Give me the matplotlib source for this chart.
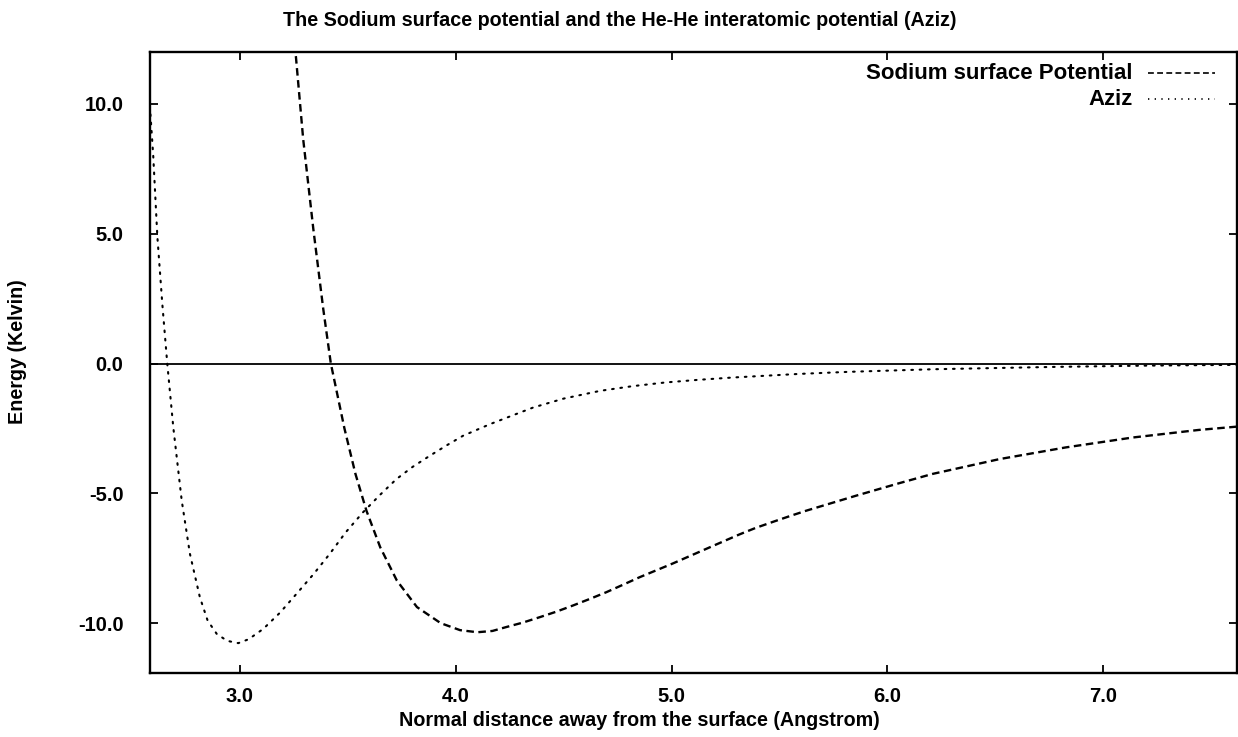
import numpy as np
import matplotlib
matplotlib.use("Agg")
import matplotlib.pyplot as plt

plt.rcParams['font.family'] = ['Liberation Sans', 'DejaVu Sans']

# He-He interatomic potential (Aziz)
aziz_x = [2.585, 2.598, 2.617, 2.640, 2.663, 2.691, 2.730, 2.768, 2.814, 2.850,
          2.892, 2.940, 2.992, 3.040, 3.108, 3.185, 3.262, 3.340, 3.416, 3.490,
          3.570, 3.650, 3.725, 3.800, 3.880, 3.960, 4.034, 4.160, 4.300, 4.360,
          4.500, 4.670, 4.820, 4.970, 5.120, 5.280, 5.590, 5.820, 6.210, 6.770,
          7.200, 7.620]
aziz_y = [9.6, 8.0, 4.9, 2.3, 0.0, -2.46, -5.28, -7.33, -9.0, -9.9,
          -10.41, -10.68, -10.77, -10.62, -10.22, -9.6, -8.87, -8.12, -7.33, -6.5,
          -5.73, -5.05, -4.45, -3.98, -3.55, -3.14, -2.78, -2.33, -1.88, -1.69,
          -1.35, -1.05, -0.87, -0.73, -0.63, -0.54, -0.40, -0.32, -0.22, -0.13,
          -0.08, -0.05]

# Sodium surface potential
na_x = [3.250, 3.259, 3.293, 3.340, 3.386, 3.421, 3.484, 3.535, 3.586, 3.650,
        3.727, 3.820, 3.930, 4.020, 4.100, 4.170, 4.234, 4.310, 4.389, 4.465,
        4.543, 4.620, 4.697, 4.775, 4.852, 5.006, 5.160, 5.240, 5.315, 5.390,
        5.469, 5.550, 5.623, 5.855, 6.050, 6.210, 6.520, 6.827, 7.136, 7.440,
        7.620]
na_y = [12.3, 11.83, 8.63, 5.17, 2.09, 0.0, -2.5, -4.25, -5.67, -7.08,
        -8.36, -9.38, -10.0, -10.27, -10.35, -10.3, -10.15, -9.98, -9.77, -9.56,
        -9.32, -9.07, -8.81, -8.52, -8.23, -7.7, -7.14, -6.85, -6.58, -6.33,
        -6.1, -5.87, -5.67, -5.09, -4.62, -4.25, -3.68, -3.23, -2.85, -2.56,
        -2.43]

xticks = [3.0, 4.0, 5.0, 6.0, 7.0]
xtick_labels = ["3.0", "4.0", "5.0", "6.0", "7.0"]
yticks = [-10.0, -5.0, 0.0, 5.0, 10.0]
ytick_labels = ["-10.0", "-5.0", "0.0", "5.0", "10.0"]

W, H = 1238, 737
fig = plt.figure(figsize=(W / 100, H / 100), dpi=100)
ax = fig.add_axes([150 / W, 1 - 673 / H, (1237 - 150) / W, (673 - 52) / H])

ax.plot(na_x, na_y, color="black", lw=1.7, linestyle=(0, (3.2, 1.9)))
ax.plot(aziz_x, aziz_y, color="black", lw=1.5, linestyle=(0, (0.8, 3.2)),
        dash_capstyle="round")
ax.axhline(0.0, color="black", lw=1.3)

ax.set_xlim(2.583, 7.62)
ax.set_ylim(-11.92, 12.0)

ax.set_xticks(xticks)
ax.set_xticklabels(xtick_labels)
ax.set_yticks(yticks)
ax.set_yticklabels(ytick_labels)
ax.tick_params(direction="in", length=6, width=1.3, top=True, right=True,
               labelsize=14.5, pad=10)
ax.tick_params(axis="y", pad=19)
for lab in ax.get_xticklabels() + ax.get_yticklabels():
    lab.set_fontweight("bold")
for s in ax.spines.values():
    s.set_linewidth(1.7)

# legend drawn by hand, gnuplot style
leg_y = [0.966, 0.924]
leg_names = ["Sodium surface Potential", "Aziz"]
leg_styles = [(0, (3.5, 2.0)), (0, (0.8, 3.2))]
for ly, name, st in zip(leg_y, leg_names, leg_styles):
    ax.text((1133 - 150) / (1237 - 150), ly, name, transform=ax.transAxes,
            ha="right", va="center", fontsize=16, fontweight="bold")
    ax.plot([(1148 - 150) / (1237 - 150), (1215 - 150) / (1237 - 150)], [ly, ly],
            transform=ax.transAxes, color="black", lw=1.2, linestyle=st)

fig.text(620 / W, 1 - 20 / H,
         "The Sodium surface potential and the He-He interatomic potential (Aziz)",
         ha="center", va="center", fontsize=14.2, fontweight="bold")
fig.text(639 / W, 1 - 720 / H,
         "Normal distance away from the surface (Angstrom)",
         ha="center", va="center", fontsize=14.2, fontweight="bold")
fig.text(18 / W, 1 - 352 / H, "Energy (Kelvin)", rotation=90,
         ha="center", va="center", fontsize=14.2, fontweight="bold")

fig.savefig("out.png", dpi=100)
